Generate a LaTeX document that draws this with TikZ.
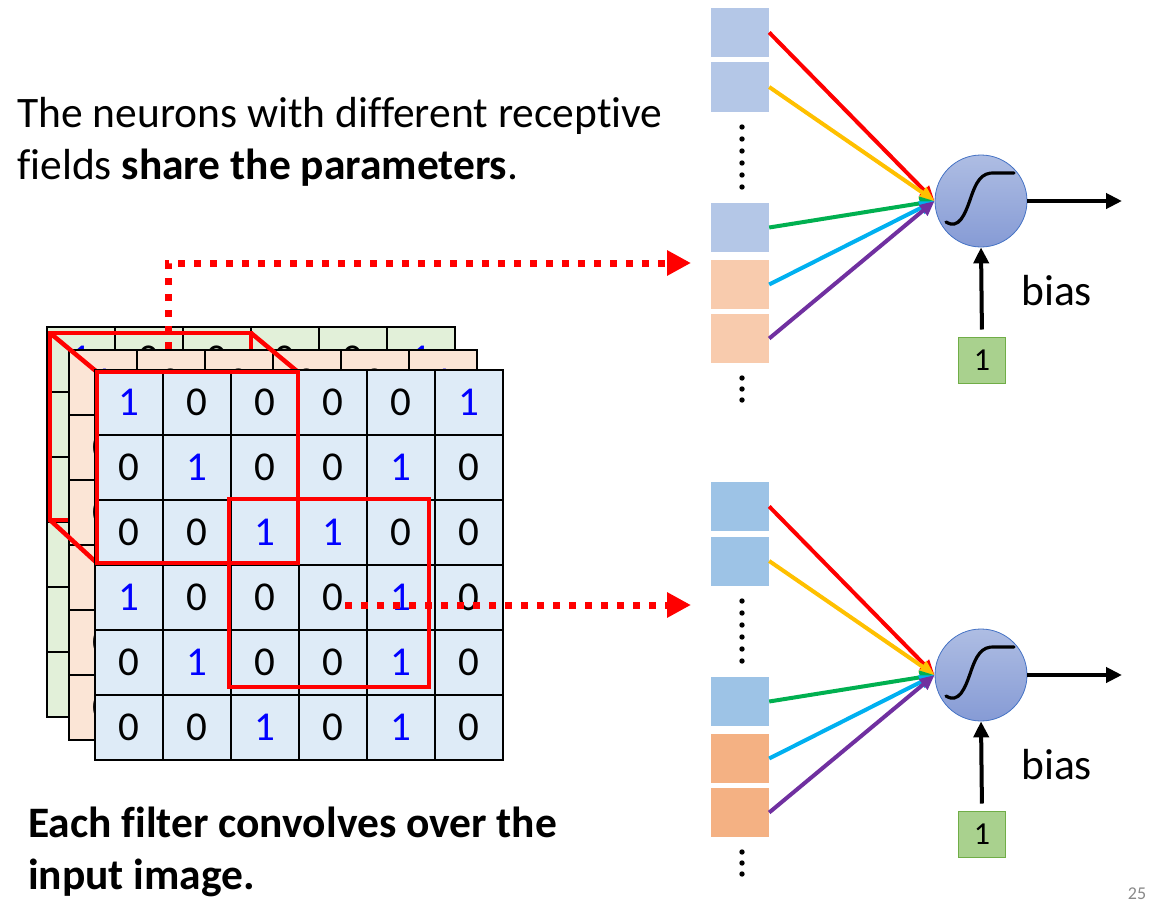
\documentclass[tikz,border=0pt]{standalone}
\usepackage{fontspec}
\setmainfont[Ligatures=NoCommon]{Carlito}
\usetikzlibrary{arrows.meta}
\definecolor{gridgreen}{HTML}{E2F0D9}
\definecolor{gridorange}{HTML}{FBE5D6}
\definecolor{gridblue}{HTML}{DEEBF7}
\definecolor{digblue}{HTML}{0000FF}
\definecolor{inb1}{HTML}{B4C7E7}
\definecolor{ino1}{HTML}{F8CBAD}
\definecolor{inb2}{HTML}{9DC3E6}
\definecolor{ino2}{HTML}{F4B183}
\definecolor{wred}{HTML}{FF0000}
\definecolor{wyellow}{HTML}{FFC000}
\definecolor{wgreen}{HTML}{00B050}
\definecolor{wcyan}{HTML}{00B0F0}
\definecolor{wpurple}{HTML}{7030A0}
\definecolor{neuronedge}{HTML}{4472C4}
\definecolor{neurontop}{HTML}{AEBDE3}
\definecolor{neuronbot}{HTML}{869BD5}
\definecolor{biasfill}{HTML}{A9D18E}
\definecolor{biasedge}{HTML}{70AD47}
\definecolor{pagegray}{HTML}{898989}
% one 6x6 image channel: name, dx, dy, fill colour
\newcommand\convgrid[4]{%
	\foreach \row [count=\r] in {{1,0,0,0,0,1},{0,1,0,0,1,0},{0,0,1,1,0,0},{1,0,0,0,1,0},{0,1,0,0,1,0},{0,0,1,0,1,0}}{
		\foreach \v [count=\c] in \row {
			\ifnum\v=1 \def\digcol{digblue}\else\def\digcol{black}\fi
			\node[cell, fill=#4, text=\digcol] (#1-\r-\c) at ({129+68*(\c-1)+#2},{402.5+65*(\r-1)+#3}) {\v};}}}
\begin{document}
\begin{tikzpicture}[x=1pt, y=-1pt, line join=miter,
	cell/.style={draw, line width=1.5pt, minimum width=68pt, minimum height=65pt, inner sep=0pt, font=\fontsize{41}{41}\selectfont},
	redbox/.style={draw=wred, line width=4.5pt},
	dotline/.style={wred, line width=7pt, dash pattern=on 7pt off 9pt, -{Triangle[length=24pt,width=24pt]}},
	insq/.style={minimum width=58pt, minimum height=49pt, inner sep=0pt},
	neuron/.style={circle, minimum size=92pt, inner sep=0pt, draw=neuronedge, line width=0.8pt, top color=neurontop, bottom color=neuronbot},
	inarrow/.style={line width=4pt, -{Triangle[length=15pt,width=13pt]}},
	outarrow/.style={line width=4pt, -{Triangle[length=16pt,width=15pt]}},
	biasbox/.style={draw=biasedge, fill=biasfill, line width=1pt, minimum width=47pt, minimum height=46pt, inner sep=0pt, font=\fontsize{32}{32}\selectfont},
	txt/.style={anchor=base west, inner sep=0pt, font=\fontsize{43.5}{50}\selectfont}]
	\useasboundingbox (0,0) rectangle (1159,907);
	\path
	(50,333) coordinate (B1) (251,333) coordinate (B2) (50,520) coordinate (B3)
	(97,372) coordinate (F1) (298,372) coordinate (F2) (97,563) coordinate (F3) (298,563) coordinate (F4)
	(229,499) coordinate (G1) (429,687) coordinate (G2)
	(168,349) coordinate (d1s) (691,263) coordinate (d1e)
	(345,605) coordinate (d2s) (691,605) coordinate (d2e)
	;
	% channels and receptive fields
	\convgrid{g}{-48}{-43}{gridgreen}
	\draw[redbox] (B1) rectangle (B3 -| B2);
	\draw[dotline] (d1s) |- (d1e);
	\convgrid{m}{-26}{-20}{gridorange}
	\draw[redbox] (B1)--(F1) (B2)--(F2) (B3)--(F3);
	\convgrid{f}{0}{0}{gridblue}
	\draw[redbox] (F1) rectangle (F4);
	\draw[redbox] (G1) rectangle (G2);
	\draw[dotline] (d2s) -- (d2e);
	% the two neurons
	\foreach \n/\dy in {1/0,2/474}{
		\foreach \yy/\cc [count=\i] in {32.5/b,87/b,227.5/b,284.5/o,338.5/o}
			\node[insq, fill=in\cc\n] (s\n-\i) at (740,\yy+\dy) {};
		\foreach \yy in {127,139,151,163,175,187,378,389,400}
			\fill (742,\yy+\dy) circle (2.7);
		\node[neuron] (n\n) at (981,201+\dy) {};
		\draw[line width=3.2pt, line cap=round, shift={(n\n.center)}] (-35,21) .. controls (-22,29) and (-16,13) .. (-11,-1) .. controls (-5,-19) and (0,-29) .. (14,-28) -- (33,-28);
		\foreach \i/\cl in {1/wred,2/wyellow,3/wgreen,4/wcyan,5/wpurple}
			\draw[inarrow, \cl] (s\n-\i.east) -- (n\n.west);
		\coordinate (o\n) at (1122,201+\dy);
		\draw[outarrow] (n\n.east) -- (o\n);
		\node[biasbox] (b\n) at (982,360+\dy) {1};
		\draw[outarrow, shorten <=7pt] (b\n.north) -- (n\n.south);
		\node[txt] (lb\n) at (1021,305+\dy) {bias};
	}
	% captions
	\node[txt] (t1) at (17,127) {The neurons with different receptive};
	\node[txt] (t2) at (17,179) {fields \textbf{share the parameters}.};
	\node[txt, font=\fontsize{43.5}{50}\selectfont\bfseries] (t3) at (28,837) {Each filter convolves over the};
	\node[txt, font=\fontsize{43.5}{50}\selectfont\bfseries] (t4) at (28,889) {input image.};
	\node[text=pagegray, font=\fontsize{18}{18}\selectfont] (pg) at (1137,894) {25};
\end{tikzpicture}
\end{document}
